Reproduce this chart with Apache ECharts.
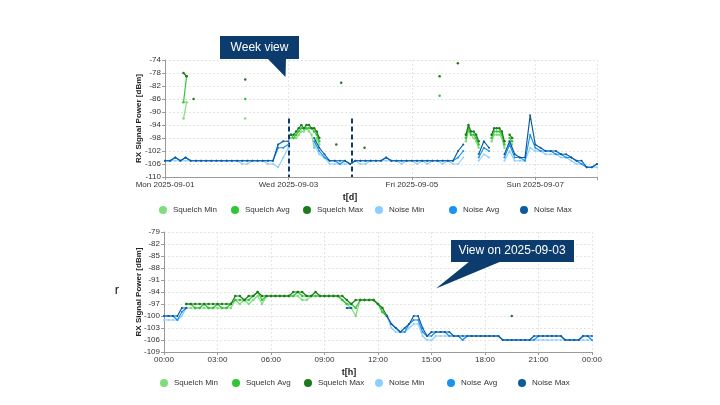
<!DOCTYPE html>
<html>
<head>
<meta charset="utf-8">
<script src="https://cdn.jsdelivr.net/npm/echarts@6.0.0/dist/echarts.min.js"></script>
<style>
  html, body { margin: 0; padding: 0; background: #fff; }
  #chart { width: 720px; height: 405px; }
</style>
</head>
<body>
<div id="chart"></div>
<script>
const _ = null

// 图例与颜色
const seriesNames = ['Squelch Min', 'Squelch Avg', 'Squelch Max', 'Noise Min', 'Noise Avg', 'Noise Max']
const seriesColors = ['#80dc7c', '#30c634', '#1e7a1e', '#8ccfff', '#1893f2', '#0e5a9c']

// 周视图：刻度标签 (每 48 小时)
const weekTickLabels = ['Mon 2025-09-01', 'Wed 2025-09-03', 'Fri 2025-09-05', 'Sun 2025-09-07']
// 周视图标记线位置 (小时)
const weekMarks = [48, 72.7]

// 周视图噪声：每 2 小时一个点，从 2025-09-01 00:00 起
const noiseMinWeek = [
  -105, -105, -105, -105, -105, -105, -105, -105, -105, -105, -105, -105, -105, -105, -105,
  -106, -106, -105, -105, -105, -106, -106, -107, -104, -101, _, _, _, _,
  -100, -103, -104, -106, -106, -106, -106, -106, -105, -106, -106, -105,
  -105, -105, -105, -105, -105, -106, -105, -105, -106, -105, -106, -105, -105, -106, -105,
  -106, -106, -104, _, _, -105, -103, -104, _, _,
  -105, -102, -105, -105, -105, -101, -102, -102, -103, -103, -103, -104, -104, -105, -106, -106, -107, -107, -107
]
const noiseAvgWeek = [
  -105, -105, -104, -105, -104,
  -105, -105, -105, -105, -105, -105, -105, -105, -105, -105, -105, -105, -105, -105, -105, -105, -105,
  -101, -101, -100, _, _, _, _,
  -99, -102, -104, -105, -105, -106, -105, -106, -105,
  -105, -105, -105, -105, -105, -104,
  -105, -105, -105, -105, -105, -105, -105, -105, -105, -105, -105, -105,
  -105, -104, -102, _, _, -104, -101, -102, _, _,
  -104, -100, -104, -104, -105, -97, -101, -102, -102, -102, -103, -103, -104, -104, -105, -106, -107, -107, -106
]
const noiseMaxWeek = [
  -105, -105, -104, -105, -104,
  -105, -105, -105, -105, -105, -105, -105, -105, -105, -105, -105, -105, -105, -105, -105, -105, -105,
  -100, -99, -99, _, _, _, _,
  -98, -101, -103, -105, -105, -105, -105, -106, -105,
  -105, -105, -105, -105, -105, -104,
  -105, -105, -105, -105, -105, -105, -105, -105, -105, -105, -105, -105,
  -105, -102, -100, _, _, -103, -99, -101, _, _,
  -103, -99, -103, -104, -104, -91, -100, -101, -102, -102, -102, -103, -103, -104, -105, -105, -107, -107, -106
]

// 周视图静噪：[小时, dBm]，null 断开
const squelchMinWeek = [
  [7.2, -92], [8.4, -87], [9, _], [31.2, -92], [32, _],
  [49, -98], [50, -98], [51, -98], [52, -97], [53, -96], [54, -96], [55, -95], [56, -96], [57, -97], [58, -101], [59, -98], [60, -100], [61, _],
  [117, -99], [118, -96], [119, -97], [120, -98], [121, -99], [122, -101], [123, _],
  [127, -99], [128, -97], [129, -97], [130, -97], [131, -98], [132, -101], [133, _],
  [134, -99], [135, -100]
]
const squelchAvgWeek = [
  [7.2, -87], [8.4, -79], [9, _], [31.2, -86], [32, _],
  [49, -97], [50, -98], [51, -97], [52, -96], [53, -95], [54, -95], [55, -95], [56, -95], [57, -95], [58, -96], [59, -97], [60, -99], [61, _],
  [106.8, -85], [107.5, _],
  [117, -98], [118, -95], [119, -97], [120, -97], [121, -98], [122, -100], [123, _],
  [127, -98], [128, -96], [129, -96], [130, -96], [131, -97], [132, -100], [133, _],
  [134, -98], [135, -99]
]
const squelchMaxWeek = [
  [7.2, -78], [8.4, -79], [9, _], [11.1, -86], [12, _], [31.2, -80], [32, _],
  [49, -97], [50, -97], [51, -96], [52, -95], [53, -94], [54, -95], [55, -94], [56, -94], [57, -95], [58, -95], [59, -96], [60, -98], [61, _],
  [66.6, -100], [67.5, _], [68.5, -81], [69, _], [77.6, -101], [78.5, _],
  [106.8, -79], [107.5, _], [113.9, -75], [114.5, _],
  [117, -97], [118, -94], [119, -96], [120, -96], [121, -97], [122, -99], [123, _],
  [127, -97], [128, -95], [129, -95], [130, -95], [131, -96], [132, -99], [133, _],
  [134, -97], [135, -98]
]

// 日视图 2025-09-03：每 15 分钟一个点
const dayTickLabels = ['00:00', '03:00', '06:00', '09:00', '12:00', '15:00', '18:00', '21:00', '00:00']

const squelchMinDay = [
  _, _, _, _, _,
  -98, -98, -98, -98, -98, -98, -98, -98, -98, -98, -98,
  -96, -97, -96, -97, -96, -95, -97, -95,
  -95, -95, -95, -95, -95,
  -95, -95, -96, -96, -95, -95,
  -95, -95, -95, -95, -95,
  -96, -97, -98, -100, -96, -96, -96, -96,
  -97, -99, -100,
  _, _, _, _, _, _, _, _, _, _, _, _, _, _, _, _, _, _, _, _, _, _, _, _, _, _, _,
  _, _, _, _, _, _, _, _, _, _, _, _, _, _, _, _, _, _, _
]
const squelchAvgDay = [
  _, _, _, _, _,
  -97, -97, -98, -98, -97, -98, -98, -97, -98, -98, -97,
  -96, -96, -96, -96, -95, -94, -96, -95,
  -95, -95, -95, -95, -95,
  -95, -94, -95, -95, -95, -95,
  -95, -95, -95, -95, -95,
  -96, -97, -97, -98, -96, -96, -96, -96,
  -97, -99, -100,
  _, _, _, _, _, _, _, _, _, _, _, _, _, _, _, _, _, _, _, _, _, _, _, _, _, _, _,
  _, _, _, _, _, _, _, _, _, _, _, _, _, _, _, _, _, _, _
]
const squelchMaxDay = [
  _, _, _, _, _,
  -97, -97, -97, -97, -97, -97, -97, -97, -97, -97, -97,
  -95, -95, -96, -95, -95, -94, -95, -95,
  -95, -95, -95, -95, -95,
  -94, -94, -94, -95, -95, -94,
  -95, -95, -95, -95, -95,
  -95, -96, -97, -96, -96, -96, -96, -96,
  -97, -98, -100,
  _, _, _, _, _, _, _, _, _, _, _, _, _, _, _, _, _, _, _, _, _, _, _, _, _, _, _,
  -100,
  _, _, _, _, _, _, _, _, _, _, _, _, _, _, _, _, _, _
]
const noiseMinDay = [
  -101, -101, -101, -101, -100, -98,
  _, _, _, _, _, _, _, _, _, _, _, _, _, _, _, _, _, _, _, _, _, _, _, _, _, _, _, _, _, _, _, _, _, _, _,
  -98, -98,
  _, _, _, _, _, _, _,
  -100, -103, -104, -104, -104, -103, -102, -102, -105, -106,
  -106, -105, -105, -105, -105, -105, -105, -106,
  -105, -105, -105, -105, -105, -105, -105, -105,
  -106, -106, -106, -106, -106, -106, -106, -106, -106, -106, -106,
  -106, -106, -106, -106, -106, -106, -106, -106, -106, -106
]
const noiseAvgDay = [
  -100, -100, -100, -101, -99, -98,
  _, _, _, _, _, _, _, _, _, _, _, _, _, _, _, _, _, _, _, _, _, _, _, _, _, _, _, _, _, _, _, _, _, _, _,
  -98, -98,
  _, _, _, _, _, _, _,
  -100, -102, -103, -104, -104, -102, -101, -101, -104, -105,
  -105, -104, -104, -104, -105, -105, -105, -106,
  -105, -105, -105, -105, -105, -105, -105, -105,
  -106, -106, -106, -106, -106, -106, -106, -106,
  -105, -105, -105, -105, -105, -105,
  -106, -106, -106, -106,
  -105, -105, -106
]
const noiseMaxDay = [
  -100, -100, -100, -100, -98, -98,
  _, _, _, _, _, _, _, _, _, _, _, _, _, _, _, _, _, _, _, _, _, _, _, _, _, _, _, _, _, _, _, _, _, _, _,
  -98, -98,
  _, _, _, _, _, _, _,
  -100, -102, -103, -104, -103, -102, -100, -100, -103, -105,
  -104, -104, -104, -104, -104,
  -105, -105, -105, -105, -105, -105, -105, -105, -105, -105, -105,
  -106, -106, -106, -106, -106, -106, -106,
  -105, -105, -105, -105, -105, -105, -105,
  -106, -106, -106, -106,
  -105, -105, -105
]

const weekHours = noiseMaxWeek.map((v, k) => k * 2)
const dayHours = noiseMaxDay.map((v, i) => i * 0.25)
const zip = (xs, ys) => xs.map((x, i) => [x, ys[i]])

const FONT = 'Liberation Sans'
const NAVY = '#0c3c6d'

const lineSeries = (idx, data, axis) => ({
  name: seriesNames[idx],
  type: 'line',
  xAxisIndex: axis,
  yAxisIndex: axis,
  data,
  symbol: 'circle',
  symbolSize: idx < 3 ? 2.5 : 2,
  showSymbol: true,
  showAllSymbol: true,
  connectNulls: false,
  lineStyle: { width: 1.2, color: seriesColors[idx] },
  itemStyle: { color: seriesColors[idx] },
  emphasis: { disabled: true },
  z: 2 + idx
})

const series = [
  lineSeries(0, squelchMinWeek, 0),
  lineSeries(1, squelchAvgWeek, 0),
  lineSeries(2, squelchMaxWeek, 0),
  lineSeries(3, zip(weekHours, noiseMinWeek), 0),
  lineSeries(4, zip(weekHours, noiseAvgWeek), 0),
  Object.assign(lineSeries(5, zip(weekHours, noiseMaxWeek), 0), {
    markLine: {
      silent: true,
      symbol: 'none',
      label: { show: false },
      lineStyle: { color: NAVY, width: 2, type: [5, 3] },
      data: weekMarks.map(h => [{ coord: [h, -92] }, { coord: [h, -110] }])
    }
  }),
  lineSeries(0, zip(dayHours, squelchMinDay), 1),
  lineSeries(1, zip(dayHours, squelchAvgDay), 1),
  lineSeries(2, zip(dayHours, squelchMaxDay), 1),
  lineSeries(3, zip(dayHours, noiseMinDay), 1),
  lineSeries(4, zip(dayHours, noiseAvgDay), 1),
  lineSeries(5, zip(dayHours, noiseMaxDay), 1)
]

// 每个图例项单独定位，间距固定
const legendX = [
  [159, 231, 303, 375, 449, 520],
  [160, 232, 304, 375, 447, 518]
]
const legendY = [206, 379]
const legends = []
legendX.forEach((row, r) => {
  row.forEach((left, i) => {
    legends.push({
      data: [seriesNames[i]],
      left, top: legendY[r],
      padding: 0,
      icon: 'circle',
      itemWidth: 8, itemHeight: 8, itemGap: 0,
      selectedMode: false,
      textStyle: { fontSize: 8, color: '#333', fontFamily: FONT, padding: [0, 0, 0, 1] }
    })
  })
})

const axisCommon = {
  axisLine: { show: true, lineStyle: { color: '#9a9a9a' } },
  axisTick: { show: true, length: 3, lineStyle: { color: '#9a9a9a' } },
  axisLabel: { fontSize: 8, color: '#333', fontFamily: FONT, margin: 4 },
  splitLine: { show: true, lineStyle: { color: '#e4e4e4', type: [2, 2] } },
  nameMoveOverlap: false,
  nameTextStyle: { fontSize: 8, fontWeight: 'bold', color: '#222', fontFamily: FONT }
}

const option = {
  animation: false,
  backgroundColor: '#fff',
  textStyle: { fontFamily: FONT },
  legend: legends,
  grid: [
    { left: 165, right: 123, top: 60, bottom: 228 },
    { left: 164, right: 128, top: 232, bottom: 53 }
  ],
  xAxis: [
    Object.assign({}, axisCommon, {
      type: 'value', gridIndex: 0, min: 0, max: 168, interval: 48,
      name: 't[d]', nameLocation: 'middle', nameGap: 16,
      nameTextStyle: Object.assign({}, axisCommon.nameTextStyle, { fontSize: 9, padding: [0, 62, 0, 0] }),
      axisLabel: Object.assign({}, axisCommon.axisLabel, {
        formatter: v => (v % 48 === 0 ? weekTickLabels[v / 48] || '' : '')
      })
    }),
    Object.assign({}, axisCommon, {
      type: 'value', gridIndex: 1, min: 0, max: 24, interval: 3,
      name: 't[h]', nameLocation: 'middle', nameGap: 16,
      nameTextStyle: Object.assign({}, axisCommon.nameTextStyle, { fontSize: 9, padding: [0, 58, 0, 0] }),
      axisLabel: Object.assign({}, axisCommon.axisLabel, {
        formatter: v => dayTickLabels[Math.round(v / 3)] || ''
      })
    })
  ],
  yAxis: [
    Object.assign({}, axisCommon, {
      type: 'value', gridIndex: 0, min: -110, max: -74, interval: 4,
      name: 'RX Signal Power [dBm]', nameLocation: 'middle', nameGap: 22
    }),
    Object.assign({}, axisCommon, {
      type: 'value', gridIndex: 1, min: -109, max: -79, interval: 3,
      name: 'RX Signal Power [dBm]', nameLocation: 'middle', nameGap: 21
    })
  ],
  series,
  graphic: [
    { type: 'rect', z: 100, shape: { x: 220, y: 36, width: 79, height: 23 }, style: { fill: NAVY } },
    { type: 'polygon', z: 100, shape: { points: [[267, 58], [286, 58], [285.5, 77]] }, style: { fill: NAVY } },
    { type: 'text', z: 101, x: 259.5, y: 47.5, style: { text: 'Week view', fill: '#fff', font: '12px "Liberation Sans"', align: 'center', verticalAlign: 'middle' } },
    { type: 'rect', z: 100, shape: { x: 451, y: 240, width: 123, height: 22 }, style: { fill: NAVY } },
    { type: 'polygon', z: 100, shape: { points: [[470, 261], [502, 261], [436, 288.5]] }, style: { fill: NAVY } },
    { type: 'text', z: 101, x: 512, y: 251, style: { text: 'View on 2025-09-03', fill: '#fff', font: '12px "Liberation Sans"', align: 'center', verticalAlign: 'middle' } },
    { type: 'text', z: 101, x: 117, y: 290, style: { text: 'r', fill: '#111', font: '13px "Liberation Sans"', align: 'center', verticalAlign: 'middle' } }
  ]
}

const chart = echarts.init(document.getElementById('chart'))
chart.setOption(option)
</script>
</body>
</html>
